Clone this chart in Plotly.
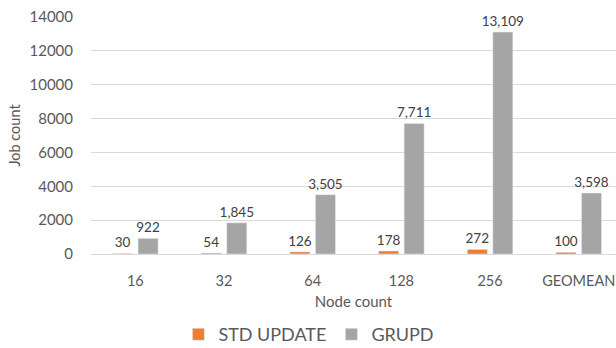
import plotly.graph_objects as go

categories = ["16", "32", "64", "128", "256", "GEOMEAN"]
std_update = [30, 54, 126, 178, 272, 100]
grupd = [922, 1845, 3505, 7711, 13109, 3598]
y_ticks = [0, 2000, 4000, 6000, 8000, 10000, 12000, 14000]

FONT = "Lato, 'Open Sans', sans-serif"
LABEL_FONT = dict(size=13.5, color="#404040", family=FONT)

fig = go.Figure()
fig.add_trace(go.Bar(
    x=categories, y=std_update, name="STD UPDATE",
    marker_color="#ED7D31",
    text=[f"{v:,}" for v in std_update], textposition="outside",
    textangle=0, constraintext="none",
    textfont=LABEL_FONT, cliponaxis=False,
))
fig.add_trace(go.Bar(
    x=categories, y=grupd, name="GRUPD",
    marker_color="#A5A5A5",
    text=[f"{v:,}" for v in grupd], textposition="outside",
    textangle=0, constraintext="none",
    textfont=LABEL_FONT, cliponaxis=False,
))

fig.update_layout(
    width=616, height=348,
    margin=dict(l=91, r=0, t=17, b=94, autoexpand=False),
    paper_bgcolor="white", plot_bgcolor="white",
    barmode="group", bargap=0.425, bargroupgap=0.215,
    font=dict(family=FONT, color="#595959", size=15),
    showlegend=True,
    legend=dict(orientation="h", x=0.415, xref="paper", xanchor="center",
                y=-0.34, yanchor="middle",
                font=dict(size=18, color="#595959", family=FONT),
                itemwidth=30, traceorder="normal"),
)
fig.update_xaxes(
    range=[-0.5, 5.42], showgrid=False, showline=True, linecolor="#d9d9d9",
    ticks="", tickfont=dict(size=14.5, color="#595959"), ticklabelstandoff=14,
    title=dict(text="Node count", font=dict(size=15, color="#595959"), standoff=8),
    fixedrange=True, automargin=False,
)
fig.update_yaxes(
    range=[0, 14000], tickvals=y_ticks, ticktext=[str(v) for v in y_ticks],
    showgrid=True, gridcolor="#d9d9d9", gridwidth=1, zeroline=False,
    ticks="", tickfont=dict(size=15, color="#595959"), ticklabelstandoff=17,
    title=dict(text="Job count", font=dict(size=14.5, color="#595959"), standoff=5),
    fixedrange=True, automargin=False,
)
fig.write_html("out.html")
